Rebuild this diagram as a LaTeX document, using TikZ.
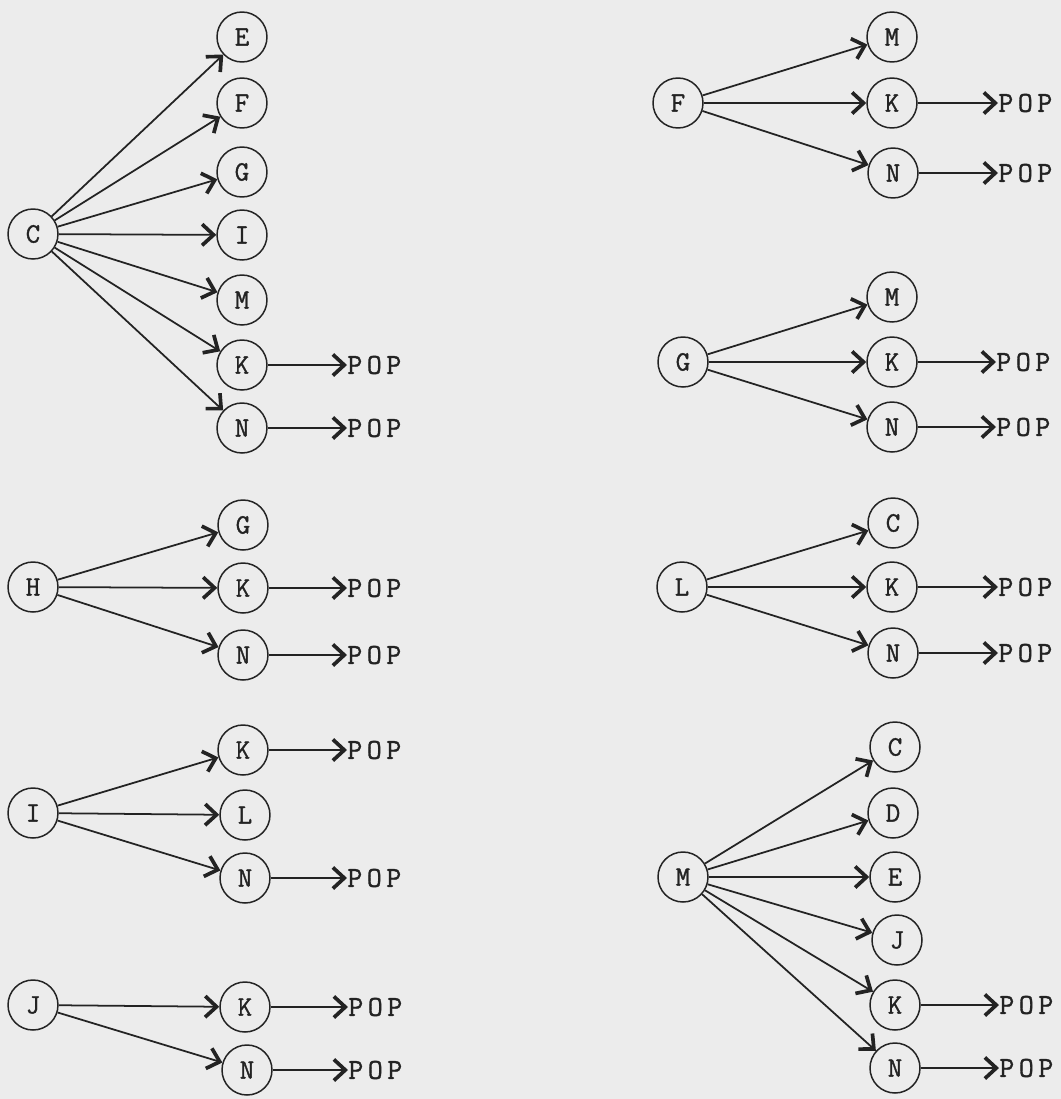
\documentclass[tikz,border=0pt]{standalone}
\usepackage{fontspec}
\usetikzlibrary{arrows.meta}
\newfontfamily\tw[FakeBold=1.2]{Latin Modern Mono}
\definecolor{paper}{RGB}{236,236,236}
\definecolor{ink}{RGB}{35,35,35}
\newcommand{\poptext}{P\kern2.6pt O\kern2.6pt P}
\tikzset{
  st/.style={circle,draw=ink,line width=0.85pt,minimum size=1cm,inner sep=0pt,
    font=\tw\fontsize{16}{18}\selectfont,text=ink},
  tr/.style={draw=ink,line width=1pt,-{Straight Barb[length=6.5pt,width=12pt,line width=2.1pt]}},
  popn/.style={inner sep=0pt,anchor=west,font=\tw\fontsize{16.5}{20}\selectfont,text=ink},
}
\begin{document}
\begin{tikzpicture}[x=0.02cm,y=-0.02cm]
\fill[paper] (0,0) rectangle (1061,1099);
\useasboundingbox (0,0) rectangle (1061,1099);
% ---------- group C ----------
\node[st] (c0) at (33,234) {C};
\node[st] (c1) at (242,37) {E};
\node[st] (c2) at (242,103) {F};
\node[st] (c3) at (242,172) {G};
\node[st] (c4) at (242,235) {I};
\node[st] (c5) at (242,300) {M};
\node[st] (c6) at (242,365) {K};
\node[st] (c7) at (242,428) {N};
\node[popn] (cp6) at (347,365) {\poptext};
\node[popn] (cp7) at (347,428) {\poptext};
\foreach \i in {1,...,7} \draw[tr] (c0) -- (c\i);
\draw[tr] (c6) -- (cp6.west);
\draw[tr] (c7) -- (cp7.west);
% ---------- group H ----------
\node[st] (h0) at (33,587) {H};
\node[st] (h1) at (243,525) {G};
\node[st] (h2) at (243,588) {K};
\node[st] (h3) at (243,655) {N};
\node[popn] (hp2) at (347,588) {\poptext};
\node[popn] (hp3) at (347,655) {\poptext};
\foreach \i in {1,2,3} \draw[tr] (h0) -- (h\i);
\draw[tr] (h2) -- (hp2.west);
\draw[tr] (h3) -- (hp3.west);
% ---------- group I ----------
\node[st] (i0) at (33,813) {I};
\node[st] (i1) at (243,750) {K};
\node[st] (i2) at (245,815) {L};
\node[st] (i3) at (245,878) {N};
\node[popn] (ip1) at (347,750) {\poptext};
\node[popn] (ip3) at (347,878) {\poptext};
\foreach \i in {1,2,3} \draw[tr] (i0) -- (i\i);
\draw[tr] (i1) -- (ip1.west);
\draw[tr] (i3) -- (ip3.west);
% ---------- group J ----------
\node[st] (j0) at (33,1005) {J};
\node[st] (j1) at (245,1007) {K};
\node[st] (j2) at (247,1070) {N};
\node[popn] (jp1) at (348,1007) {\poptext};
\node[popn] (jp2) at (348,1070) {\poptext};
\foreach \i in {1,2} \draw[tr] (j0) -- (j\i);
\draw[tr] (j1) -- (jp1.west);
\draw[tr] (j2) -- (jp2.west);
% ---------- group F ----------
\node[st] (f0) at (678,103) {F};
\node[st] (f1) at (892,37) {M};
\node[st] (f2) at (892,103) {K};
\node[st] (f3) at (893,173) {N};
\node[popn] (fp2) at (998,103) {\poptext};
\node[popn] (fp3) at (998,173) {\poptext};
\foreach \i in {1,2,3} \draw[tr] (f0) -- (f\i);
\draw[tr] (f2) -- (fp2.west);
\draw[tr] (f3) -- (fp3.west);
% ---------- group G ----------
\node[st] (g0) at (683,362) {G};
\node[st] (g1) at (892,297) {M};
\node[st] (g2) at (892,362) {K};
\node[st] (g3) at (892,427) {N};
\node[popn] (gp2) at (996,362) {\poptext};
\node[popn] (gp3) at (996,427) {\poptext};
\foreach \i in {1,2,3} \draw[tr] (g0) -- (g\i);
\draw[tr] (g2) -- (gp2.west);
\draw[tr] (g3) -- (gp3.west);
% ---------- group L ----------
\node[st] (l0) at (682,587) {L};
\node[st] (l1) at (893,523) {C};
\node[st] (l2) at (892,587) {K};
\node[st] (l3) at (893,653) {N};
\node[popn] (lp2) at (998,587) {\poptext};
\node[popn] (lp3) at (998,653) {\poptext};
\foreach \i in {1,2,3} \draw[tr] (l0) -- (l\i);
\draw[tr] (l2) -- (lp2.west);
\draw[tr] (l3) -- (lp3.west);
% ---------- group M ----------
\node[st] (m0) at (683,877) {M};
\node[st] (m1) at (895,747) {C};
\node[st] (m2) at (893,813) {D};
\node[st] (m3) at (895,877) {E};
\node[st] (m4) at (897,940) {J};
\node[st] (m5) at (895,1005) {K};
\node[st] (m6) at (895,1068) {N};
\node[popn] (mp5) at (999,1005) {\poptext};
\node[popn] (mp6) at (999,1068) {\poptext};
\foreach \i in {1,...,6} \draw[tr] (m0) -- (m\i);
\draw[tr] (m5) -- (mp5.west);
\draw[tr] (m6) -- (mp6.west);
\end{tikzpicture}
\end{document}
